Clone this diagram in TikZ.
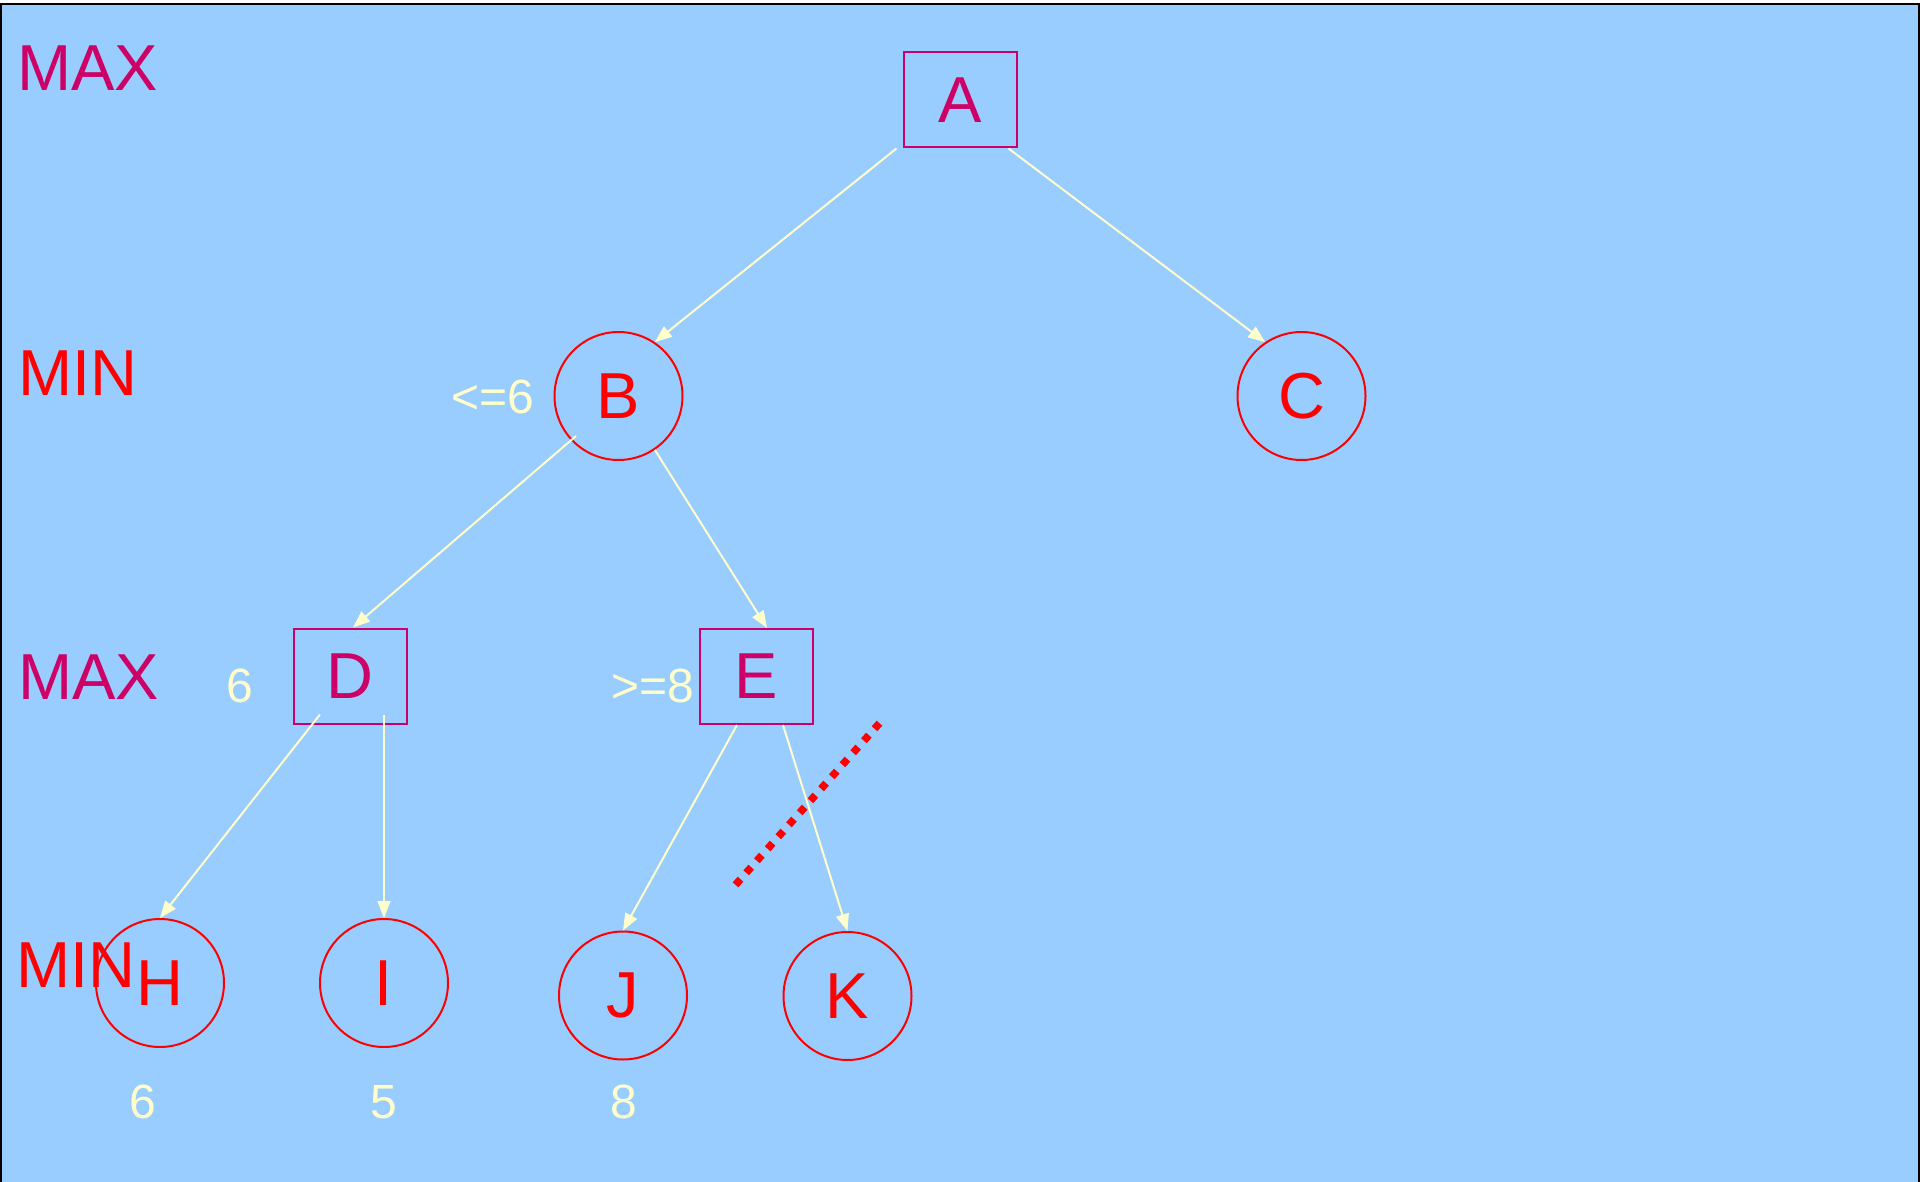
\documentclass[tikz,border=0pt]{standalone}
\usepackage{fontspec}
\setmainfont{Liberation Sans}
\usetikzlibrary{arrows.meta}
\definecolor{sky}{HTML}{99CCFF}
\definecolor{plum}{HTML}{CC0066}
\definecolor{cream}{HTML}{FFFFCC}
\definecolor{hot}{HTML}{FF0000}
\begin{document}
\begin{tikzpicture}[x=1pt,y=-1pt,
  maxnode/.style={draw=plum, line width=2pt, minimum width=113pt, minimum height=95pt,
    inner sep=0pt, text=plum, font=\fontsize{65}{70}\selectfont},
  minnode/.style={circle, draw=hot, line width=2pt, minimum size=128pt,
    inner sep=0pt, text=hot, font=\fontsize{65}{70}\selectfont},
  levelmax/.style={anchor=base west, inner sep=0pt, text=plum, font=\fontsize{65}{70}\selectfont},
  levelmin/.style={anchor=base west, inner sep=0pt, text=hot, font=\fontsize{65}{70}\selectfont},
  val/.style={inner sep=0pt, text=cream, font=\fontsize{48}{52}\selectfont},
  edge/.style={cream, line width=2pt, -{Triangle[length=17pt,width=13pt]}}
]
% page and framed backdrop
\useasboundingbox (0,0) rectangle (1920,1182);
\clip (0,0) rectangle (1920,1182);
\fill[sky] (0,3) rectangle (1920,1200);
\draw[black, line width=1.6pt] (0.7,1200) -- (0.7,3.8) -- (1918.8,3.8) -- (1918.8,1200);

% level captions
\node[levelmax] (lv0) at (17,91) {MAX};
\node[levelmin] (lv1) at (18,395) {MIN};
\node[levelmax] (lv2) at (18,699) {MAX};

% game tree
\node[maxnode] (A) at (960,100) {A};
\node[minnode] (B) at (618.5,396) {B};
\node[minnode] (C) at (1301.5,396) {C};
\node[maxnode] (D) at (350,676) {D};
\node[maxnode] (E) at (756.5,676.5) {E};
\node[minnode] (H) at (160,983) {H};
\node[minnode] (I) at (384,983) {I};
\node[minnode] (J) at (623,995.5) {J};
\node[minnode] (K) at (847.5,996) {K};

\node[levelmin] (lv3) at (16,987) {MIN};

% backed-up values and bounds
\node[val, anchor=base west] (vB) at (451,413) {<=6};
\node[val, anchor=base west] (vE) at (611,702) {>=8};
\node[val, anchor=base west] (vD) at (226,702) {6};
\node[val, anchor=base] (vH) at (143,1118) {6};
\node[val, anchor=base] (vI) at (384,1118) {5};
\node[val, anchor=base] (vJ) at (624,1118) {8};

% moves
\draw[edge] ([xshift=-6pt]A.south west) -- (B.56);
\draw[edge] ([xshift=-9pt]A.south east) -- (C.124);
\draw[edge] ([xshift=-42.5pt,yshift=-40pt]B.center) -- ([xshift=3pt]D.north);
\draw[edge] (B.-56) -- ([xshift=10.5pt]E.north);
\draw[edge] ([xshift=-30pt,yshift=10pt]D.south) -- (H.north);
\draw[edge] ([xshift=34pt,yshift=10pt]D.south) -- (I.north);
\draw[edge] ([xshift=-19.5pt]E.south) -- (J.north);
\draw[edge] ([xshift=26.5pt]E.south) -- (K.north);

% cut-off mark across E -> K
\draw[hot, line width=7.5pt, dash pattern=on 7.5pt off 8.58pt] (735.5,884.8) -- (879.5,723.2);
\end{tikzpicture}
\end{document}
